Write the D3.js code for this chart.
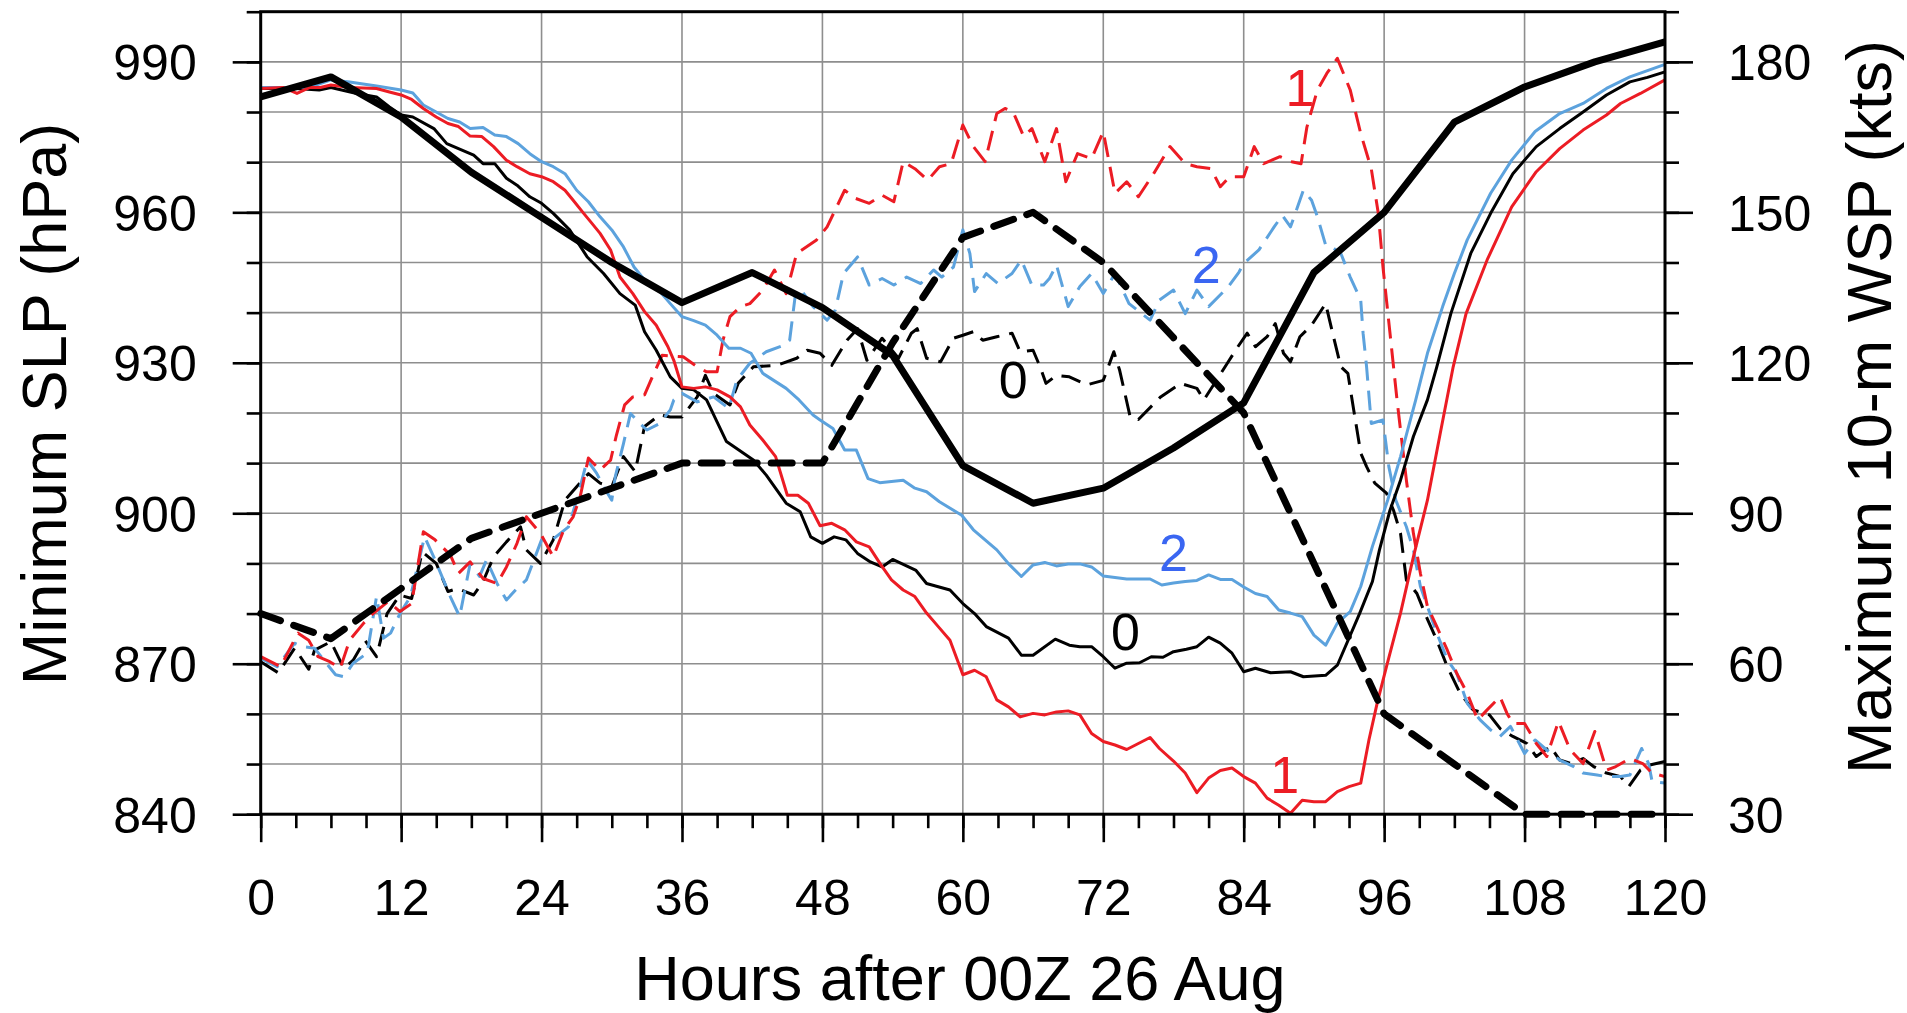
<!DOCTYPE html>
<html><head><meta charset="utf-8">
<script src="https://cdn.jsdelivr.net/npm/d3@7"></script>
<style>
body{margin:0;background:#fff;}
svg{display:block;font-family:"Liberation Sans",Arial,Helvetica,sans-serif;}
</style>
</head><body>
<svg id="chart" width="1907" height="1013"></svg>
<script>
// ---------------- DATA ----------------
const hourTicks = [0,12,24,36,48,60,72,84,96,108,120];
const slpTicks = [840,870,900,930,960,990];
const wspTicks = [30,60,90,120,150,180];

// Best track (6-hourly)
const btHours = [0,6,12,18,24,30,36,42,48,54,60,66,72,78,84,90,96,102,108,114,120];
const btSlp = [983,987,979,968,959,950,942,948,941,931.5,909.5,902,905,913,922,948,960,978,985,990,994];
const btWsp = [70,65,75,85,90,95,100,100,100,124,145,150,140,125,110,80,50,40,30,30,30];

// Experiment 0 (black), 1 (red), 2 (blue): [hour, value]
const exp0Slp = [[0,984.7],[3,984.7],[5,984.4],[6,984.9],[8.2,983.7],[9.9,983.0],[11,981.0],[12,979.4],[13,979.0],[14.8,976.7],[15.9,973.7],[18.2,971.4],[19,969.7],[20,969.7],[21,966.8],[21.9,965.4],[23,963.1],[24,961.8],[25,959.8],[26.4,956.5],[27.9,951.1],[29.3,947.8],[30.7,943.8],[32,941.5],[32.8,936.2],[33.8,932.5],[35,927.2],[36,924.9],[37,924.6],[38.1,922.6],[39.8,914.3],[42.1,910.6],[43.2,907.6],[44.9,902],[46.1,900.3],[47,895.3],[48,894],[49,895.3],[50,894.7],[51,892],[52.1,890.3],[53.1,889.3],[54,890.8],[55,889.7],[56,888.6],[56.9,886],[58.9,884.7],[60,882],[61,880],[62,877.4],[63.9,875.1],[65,871.7],[66,871.7],[67.9,874.9],[69.1,873.7],[70,873.4],[71,873.4],[72,871.4],[73,869.1],[74,870.1],[75.1,870.2],[76.1,871.4],[77.1,871.3],[78,872.4],[79.1,872.9],[80,873.4],[81,875.3],[82,874.1],[83,872.1],[84,868.4],[85,869.1],[86.3,868.2],[88,868.4],[89.1,867.4],[91,867.7],[92,869.7],[93.9,880],[95,886.4],[95.6,892.7],[96.5,900.6],[97.4,906.6],[98.5,915.3],[99.7,922.6],[100.5,929.2],[101.7,939.8],[103.4,951.8],[105.1,959.8],[107,967.7],[109,973.1],[111,976.7],[113,980.0],[115,983.4],[117,986.0],[118.5,986.9],[120,988.0]];

const exp1Slp = [[0,984.7],[1.9,984.9],[3.1,983.7],[4.2,984.9],[5.1,984.9],[6,985.4],[7.6,984.9],[9.9,984.7],[11,984.0],[12,983.4],[12.9,982.5],[13.9,980.7],[15,979.0],[16,977.7],[16.9,977.1],[17.9,975.2],[18.9,975.1],[19.9,973.1],[21,970.4],[21.9,969.1],[23,967.7],[24,967.1],[25,966.1],[26,964.4],[26.7,962.4],[27.6,959.8],[28.2,958.1],[29,955.8],[29.9,952.5],[30.7,947.1],[31.8,943.8],[32.8,940.2],[33.8,937.5],[34.8,933.2],[35.3,930.5],[36,925.2],[37,924.9],[38,925.2],[39,924.6],[40.1,923.2],[41,921.2],[41.8,917.6],[42.9,914.6],[44,911.3],[45,903.6],[45.9,903.6],[46.8,902],[47.8,897.5],[48.8,898],[49.9,896.7],[50.9,894.3],[52,893.3],[53,889.7],[53.9,886.7],[54.9,884.7],[55.9,883.4],[56.9,880.1],[57.9,877.4],[58.9,874.7],[60,867.8],[61,868.7],[62,867.4],[62.9,862.8],[63.9,861.4],[64.9,859.4],[66,860.1],[67,859.8],[68,860.4],[69,860.6],[70,859.8],[71,856.1],[72,854.5],[73,853.8],[74,852.9],[76,855.3],[76.8,853.1],[78,850.6],[79,848.2],[80,844.3],[81,847.2],[82,848.7],[83,849.2],[84,847.5],[85,846.2],[86,843.2],[87,841.8],[88,840.2],[89,842.8],[90,842.5],[91,842.5],[92,844.5],[93,845.5],[94,846.2],[94.7,854.8],[95.4,862.1],[96.2,869.4],[97.4,880.1],[98.5,891.3],[99.7,902.6],[100.8,916],[101.9,929.2],[103,939.8],[104.8,950.5],[106.9,961.1],[109,968.1],[111,972.7],[113,976.4],[115,979.4],[116.2,981.7],[117.9,983.7],[120,986.4]];

const exp2Slp = [[0,984.9],[1.9,984.9],[4.2,984.9],[6,986.4],[7.6,986],[9.9,985.2],[12,984.4],[13,983.8],[13.9,981.4],[15,980.0],[16,978.7],[17,978.0],[17.9,976.7],[19,976.9],[20,975.4],[21,975.1],[22,973.7],[23,971.7],[24,970.1],[25,969.1],[26,967.7],[27,964.4],[28,962.1],[29,959.1],[30,956.5],[31,953.1],[31.9,949.1],[32.8,946.5],[34,944.5],[35,941.8],[36,939.2],[37,938.4],[38,937.5],[39,935.5],[40,932.9],[41,932.9],[41.9,931.9],[42.9,927.9],[44.9,924.9],[46,922.6],[47.2,919.6],[47.8,918.6],[48.9,916.9],[49.9,912.6],[50.9,912.6],[51.9,906.9],[52.9,906.1],[54.9,906.6],[55.9,905],[56.9,904.3],[58,902.3],[59.9,899.6],[60.9,896.7],[61.9,894.7],[62.9,892.7],[64,889.7],[65,887.4],[66,889.7],[67,890.2],[68,889.5],[69,889.9],[70,889.9],[71,889.3],[72,887.5],[73,887.2],[74,886.9],[76,886.9],[77,885.7],[78,886.1],[79,886.4],[80,886.6],[81,887.7],[82,886.8],[83,886.8],[84,885.3],[85,884.0],[86,883.4],[87,880.7],[88,880.1],[89,879.4],[90,875.7],[91,873.7],[92,878.1],[93.1,880.4],[94,885.4],[95,893.4],[96.3,902.6],[97.4,911.3],[98.7,922.6],[99.7,931.9],[101,941.2],[102,947.8],[103.1,954.5],[105.1,963.8],[106.9,970.4],[108.9,976.1],[111,979.7],[113,981.7],[115,984.7],[117,987.0],[120,989.5]];

const exp0Wsp = [[0,60.4],[1.5,58.2],[2.9,63.1],[4.1,58.9],[4.6,62.7],[6,64.4],[7.1,59.1],[7.9,60.7],[8.9,64.7],[9.9,61.4],[10.8,70.0],[11.9,73.7],[12.9,73.0],[13.8,82.3],[15,80.0],[16,74.4],[16.8,75.0],[18.2,73.7],[19,76.4],[19.9,81.3],[21,84.3],[22.2,87.3],[22.7,82.7],[23.9,80.0],[25,84.7],[26,92.6],[27,95.3],[28,97.9],[29,96],[30,95.3],[31,101.3],[32,98.3],[32.8,107.3],[34.1,109.6],[35,109.2],[36,109.2],[37.3,113.2],[38,117.5],[38.7,113.9],[40.1,111.6],[40.8,115.9],[42.1,119.2],[44.1,119.5],[45.8,120.9],[46.7,122.5],[47.8,121.9],[48.8,119.5],[50.1,124.5],[51,126.8],[51.8,120.5],[53.1,124.9],[54.5,120.9],[55.6,125.9],[56.1,126.8],[56.9,120.9],[58.1,120.2],[59.2,124.9],[60,125.5],[60.9,126.2],[61.7,124.5],[62.9,125.2],[64.2,125.9],[64.9,122.2],[66,122.5],[66.6,119.2],[67.1,115.9],[68,117.5],[69.1,117.2],[70.6,115.6],[72,116.5],[72.9,122.2],[73.4,118.5],[74.3,109.2],[75,108.7],[76.9,113.2],[78.6,115.9],[80,114.9],[80.6,112.6],[82.6,119.9],[83.5,123.2],[84.3,125.9],[85,123.2],[86,125.2],[86.7,127.8],[87.4,121.9],[88,120.2],[88.8,125.2],[89.8,127.5],[91,131.8],[91.6,125.9],[92.3,119.2],[92.9,117.9],[93.4,110.6],[94,102],[94.5,99.3],[95.2,96],[96.2,94],[96.8,90.6],[97.4,86],[97.9,76.7],[98.8,74],[99.6,69.4],[100.5,64.7],[101.4,59.4],[102.5,54.1],[103.6,50.8],[105,49.8],[105.9,47.1],[107,45.5],[108.2,44.1],[109,41.5],[110.2,43.5],[111,40.8],[112,40.1],[113,41.1],[113.9,39.5],[115,38.2],[116.2,37.5],[116.9,35.5],[117.9,38.8],[118.7,39.8],[120,40.5]];

const exp1Wsp = [[0,61.4],[1.7,59.4],[2.8,64.4],[3.2,66.1],[4.1,64.7],[4.9,61.4],[5.9,60.4],[6.8,59.1],[7.6,64.7],[8.8,68.1],[9.6,70.0],[10.9,72.4],[11.9,70.4],[12.9,72.0],[13.9,86.3],[14.9,84.7],[16.2,81.7],[16.9,78.0],[17.9,80.3],[19,77.0],[20.2,76.0],[21,79.3],[21.9,84.0],[22.7,89.3],[23.9,86],[25,81.3],[25.9,86.7],[26.7,89.3],[27.3,93.3],[28,101],[29,98.6],[29.9,100.6],[30.4,105.6],[31.1,111.6],[31.8,113.2],[32.8,113.6],[33.6,117.9],[34.3,121.5],[36.1,121.2],[37.3,119.2],[38.1,118.2],[39,118.2],[39.5,124.5],[40.1,129.2],[41,131.2],[41.8,131.8],[42.9,134.5],[43.9,138.5],[44.9,133.8],[45.8,141.8],[47.5,144.5],[48.4,147.1],[49.9,154.4],[50.8,152.8],[52,151.8],[53.1,153.4],[54.1,152.1],[54.9,160.1],[55.9,158.7],[57,156.4],[58,159.1],[59,159.7],[60,167.4],[60.9,163.1],[61.9,160.1],[62.9,169.7],[63.6,170.7],[64.3,170],[65.2,165.1],[65.9,166.7],[67,160.1],[68,166.7],[68.8,156.1],[69.8,161.7],[71,160.7],[72,166.1],[73,153.8],[74,156.1],[75,153.1],[76.3,157.7],[77.7,163.1],[79,159.7],[80,159.1],[81.2,158.7],[82,155.1],[82.8,157.1],[84,157.1],[84.9,163.1],[85.7,159.7],[87.1,161.1],[88.1,160.1],[88.9,159.7],[89.4,167],[90.3,174.4],[91.1,177.7],[92,180.7],[93.1,174.4],[94,165.7],[94.9,158.7],[95.5,149.8],[95.9,139.1],[96.5,125.9],[97.1,112.6],[97.9,96.6],[98.5,86],[99.1,78],[99.7,71.4],[100.5,67.4],[101.4,62.7],[102.2,58.1],[103.1,54.1],[104,48.8],[104.8,50.8],[105.9,53.4],[106.5,50.1],[107,48.1],[108,48.1],[109,44.1],[109.9,41.5],[110.9,48.5],[111.9,42.8],[113,40.1],[114,46.5],[115,38.8],[115.8,39.5],[117,41.1],[118.1,40.1],[118.9,38.2],[120,37.5]];

const exp2Wsp = [[0,61.1],[1.4,59.4],[2.9,64.1],[3.6,63.4],[4.6,63.1],[5.6,60.1],[6.4,57.8],[7.1,57.4],[7.9,60.1],[9.1,62.1],[9.9,73.4],[10.5,65.1],[11.1,66.1],[11.9,70],[12.8,73.4],[14,85.3],[14.9,80.7],[16.2,73.4],[17,69.4],[17.9,80],[18.7,77.4],[19.3,80.7],[20.2,76],[21,72.7],[21.9,75],[22.7,76.7],[24,84.7],[24.9,84.7],[25.6,86],[26.3,87.3],[27,92.6],[27.9,100.6],[28.7,98],[29.3,95.3],[30,92.6],[30.3,97.3],[31,103.9],[31.6,109.9],[32.4,107.9],[33,106.6],[34.1,107.9],[35,110.6],[35.3,112.6],[36,113.9],[37.3,112.2],[38.7,113.2],[40,110.9],[40.7,116.6],[41.8,119.9],[43.2,122.2],[44.7,123.5],[45.2,124.5],[45.7,133.8],[46.1,134.8],[47.2,131.2],[48.4,128.5],[49.1,130.5],[49.8,137.8],[51,141.1],[52,135.5],[53.1,136.8],[54.1,135.5],[55.2,137.1],[56.4,135.8],[57.5,138.5],[58.2,137.1],[59.2,139.1],[60,146.5],[60.6,141.8],[61,134.2],[62,137.8],[63,135.8],[64.2,137.8],[65,140.5],[65.9,135.5],[66.9,135.5],[67.4,136.8],[68,139.5],[69,131.2],[70,135.2],[71,137.8],[72,133.8],[73,137.8],[74.2,131.8],[76,128.5],[76.8,132.5],[78,134.5],[79,129.8],[80,134.5],[81,131.2],[82.7,135.2],[83.6,138.1],[84,139.8],[85.3,142.5],[86.6,147.1],[87.3,149.4],[88,147.1],[89.1,154.4],[89.8,152.4],[90.3,149.1],[91,143.5],[91.5,143.1],[92.3,141.8],[93.1,137.1],[94,132.5],[94.2,125.9],[94.5,119.2],[94.9,107.9],[95.9,108.6],[96.4,99.3],[97,92.6],[97.9,87.3],[98.5,82.7],[99.1,75.4],[99.7,71.4],[100.5,66.1],[101.4,60.8],[102.2,58.1],[103.1,52.1],[104.2,48.8],[105.1,46.8],[105.9,45.5],[106.8,47.5],[108,42.1],[108.9,44.8],[109.9,42.8],[111,40.8],[112.2,39.5],[113,38.2],[114.2,37.8],[115,37.5],[116.2,37.5],[117,37.8],[118,43.1],[118.6,40.1],[118.9,36.5],[120,36.2]];

// In-plot experiment labels: [text, hour, slp-level of baseline, colour key]
const curveLabels = [["1",88.8,981.2,"red"],["2",80.8,945.9,"label"],["0",64.3,923.0,"black"],
                     ["2",78.0,888.5,"label"],["0",73.9,872.7,"black"],["1",87.5,844.2,"red"]];

// ---------------- CHART ----------------
const W = 1907, H = 1013;
const m = {left:260.7, right:242, top:11.7, bottom:198.8};
const col = {black:"#000", red:"#ec1c24", blue:"#5ca2dd", label:"#3a66f2"};

const svg = d3.select("#chart");
const x = d3.scaleLinear().domain([0,120]).range([m.left, W-m.right]);
const ySlp = d3.scaleLinear().domain([840,1000]).range([H-m.bottom, m.top]);
const yWsp = d3.scaleLinear().domain([30,190]).range([H-m.bottom, m.top]);

// grid
const grid = svg.append("g").attr("stroke","#8e8e8e").attr("stroke-width",1.6);
grid.selectAll("line.v").data(hourTicks.slice(1,-1)).join("line")
  .attr("x1",d=>x(d)).attr("x2",d=>x(d)).attr("y1",ySlp(840)).attr("y2",ySlp(1000));
grid.selectAll("line.h").data(d3.range(850,1000,10)).join("line")
  .attr("y1",d=>ySlp(d)).attr("y2",d=>ySlp(d)).attr("x1",x(0)).attr("x2",x(120));

// lines
const lineSlp = d3.line().x(d=>x(d[0])).y(d=>ySlp(d[1]));
const lineWsp = d3.line().x(d=>x(d[0])).y(d=>yWsp(d[1]));
const plot = svg.append("g").attr("fill","none").attr("stroke-linejoin","round");

const thin = [
  [exp0Wsp, lineWsp, col.black, true],
  [exp2Wsp, lineWsp, col.blue, true],
  [exp1Wsp, lineWsp, col.red, true],
  [exp0Slp, lineSlp, col.black, false],
  [exp2Slp, lineSlp, col.blue, false],
  [exp1Slp, lineSlp, col.red, false]
];
thin.forEach(([data, gen, c, dashed]) => {
  plot.append("path").attr("d", gen(data)).attr("stroke", c).attr("stroke-width", 3)
    .attr("stroke-dasharray", dashed ? "20 10" : null);
});

const bt = btHours.map((h,i)=>[h, btSlp[i], btWsp[i]]);
plot.append("path").attr("d", d3.line().x(d=>x(d[0])).y(d=>ySlp(d[1]))(bt))
  .attr("stroke","#000").attr("stroke-width",7);
plot.append("path").attr("d", d3.line().x(d=>x(d[0])).y(d=>yWsp(d[2]))(bt))
  .attr("stroke","#000").attr("stroke-width",7).attr("stroke-linecap","round")
  .attr("stroke-dasharray","21 14");

// frame
svg.append("rect").attr("x",x(0)).attr("y",ySlp(1000)).attr("width",x(120)-x(0))
  .attr("height",ySlp(840)-ySlp(1000)).attr("fill","none").attr("stroke","#000").attr("stroke-width",3);

// axes
function style(g){ g.select(".domain").remove(); g.selectAll("line").attr("stroke","#000").attr("stroke-width",2.6); }
const fs = 50;
const gx = svg.append("g").attr("transform",`translate(0,${ySlp(840)})`);
gx.call(d3.axisBottom(x).tickValues(d3.range(0,121,3)).tickSize(14).tickFormat("")).call(style);
const gx2 = svg.append("g").attr("transform",`translate(0,${ySlp(840)})`);
gx2.call(d3.axisBottom(x).tickValues(hourTicks).tickSize(28)).call(style);
gx2.selectAll("text").attr("y",101).attr("dy",0).attr("font-size",fs).attr("fill","#000").attr("font-family",null);

const gl = svg.append("g").attr("transform",`translate(${x(0)},0)`);
gl.call(d3.axisLeft(ySlp).tickValues(d3.range(840,1001,10)).tickSize(14).tickFormat("")).call(style);
const gl2 = svg.append("g").attr("transform",`translate(${x(0)},0)`);
gl2.call(d3.axisLeft(ySlp).tickValues(slpTicks).tickSize(28)).call(style);
gl2.selectAll("text").attr("x",-64).attr("dy","0.36em").attr("font-size",fs).attr("fill","#000").attr("font-family",null);

const gr = svg.append("g").attr("transform",`translate(${x(120)},0)`);
gr.call(d3.axisRight(yWsp).tickValues(d3.range(30,191,10)).tickSize(14).tickFormat("")).call(style);
const gr2 = svg.append("g").attr("transform",`translate(${x(120)},0)`);
gr2.call(d3.axisRight(yWsp).tickValues(wspTicks).tickSize(28)).call(style);
gr2.selectAll("text").attr("x",63).attr("dy","0.36em").attr("font-size",fs).attr("fill","#000").attr("font-family",null);

// titles
svg.append("text").attr("x",(x(0)+x(120))/2 - 3).attr("y",1000).attr("text-anchor","middle")
  .attr("font-size",63).text("Hours after 00Z 26 Aug");
svg.append("text").attr("transform",`translate(66,${(ySlp(840)+ySlp(1000))/2 - 9}) rotate(-90)`)
  .attr("text-anchor","middle").attr("font-size",63).text("Minimum SLP (hPa)");
svg.append("text").attr("transform",`translate(1891,${(ySlp(840)+ySlp(1000))/2 - 6}) rotate(-90)`)
  .attr("text-anchor","middle").attr("font-size",63).text("Maximum 10-m WSP (kts)");

// curve labels
svg.append("g").selectAll("text").data(curveLabels).join("text")
  .attr("x",d=>x(d[1])).attr("y",d=>ySlp(d[2])).attr("text-anchor","middle")
  .attr("font-size",52).attr("fill",d=>col[d[3]]).text(d=>d[0]);
</script>
</body></html>
